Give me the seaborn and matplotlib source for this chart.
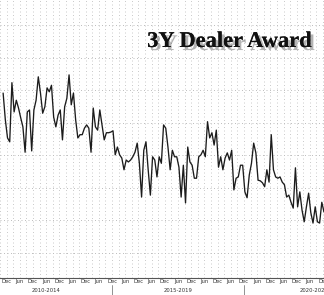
import numpy as np
import pandas as pd
import matplotlib
matplotlib.use("Agg")
import matplotlib.pyplot as plt
import matplotlib.patheffects as pe
import matplotlib.transforms as mtransforms
import seaborn as sns

# ---- data ----
start_month = "2009-11"
award = [
    34.6, 30.5, 27.7, 27.1, 36.2, 31.7, 33.5, 32.3, 30.8, 29.4,
    25.5, 31.7, 32.0, 25.7, 32.0, 33.5, 37.1, 34.6, 31.5, 32.5,
    35.4, 34.8, 35.8, 30.9, 29.4, 31.2, 32.0, 27.4, 32.5, 33.8,
    37.4, 32.8, 34.6, 30.5, 27.7, 28.2, 28.2, 29.2, 29.7, 29.2,
    25.5, 32.3, 29.4, 28.9, 32.0, 29.7, 27.4, 28.5, 28.5, 28.6,
    28.8, 25.1, 26.3, 25.1, 24.6, 22.8, 24.3, 24.0, 24.3, 24.8,
    25.5, 26.9, 23.8, 18.6, 25.8, 27.1, 22.8, 18.9, 24.8, 24.3,
    21.7, 24.8, 23.8, 29.7, 29.2, 26.3, 22.8, 25.8, 24.8, 24.8,
    23.2, 18.6, 23.5, 17.7, 26.3, 24.0, 23.5, 21.5, 21.5, 24.8,
    25.1, 25.8, 24.8, 30.2, 27.7, 28.5, 26.6, 28.9, 23.2, 24.8,
    22.8, 24.6, 25.4, 24.3, 25.8, 19.7, 21.5, 21.7, 23.5, 23.5,
    19.4, 18.5, 22.0, 23.8, 26.9, 25.4, 21.2, 21.1, 20.8, 20.2,
    22.8, 20.9, 28.2, 22.8, 21.7, 21.5, 21.7, 20.9, 20.5, 18.6,
    18.9, 17.8, 16.9, 23.1, 17.1, 19.4, 16.6, 14.8, 17.1, 19.2,
    16.2, 14.6, 17.1, 14.8, 14.6, 17.8, 16.3,
]
month_tick_labels = ["Dec", "Jun"] * 12 + ["Dec"]
group_labels = ["2010-2014", "2015-2019", "2020-2024"]
y_grid_values = [10, 15, 20, 25, 30, 35, 40, 45]
title = "3Y Dealer Award"

df = pd.DataFrame({
    "date": pd.date_range(start_month, periods=len(award), freq="MS"),
    "award": award,
})
df["month"] = np.arange(len(df))

sns.set_style("white")
plt.rcParams["font.family"] = ["DejaVu Sans"]

W, H = 324, 295
fig = plt.figure(figsize=(W / 100, H / 100), dpi=100)
fig.patch.set_facecolor("white")
ax = fig.add_axes([0, 17 / H, 1, 278 / H])

sns.lineplot(data=df, x="month", y="award", ax=ax, color="#1c1c1c",
             linewidth=0.95, zorder=3)

ax.set_xlim(0, 146)
ax.set_ylim(6.15, 48.92)
ax.set_xlabel("")
ax.set_ylabel("")

# y grid (no labels visible)
ax.set_yticks(y_grid_values)
ax.set_yticklabels([])
ax.tick_params(axis="y", length=0)

# x ticks: Dec / Jun every 6 months
tick_pos = 1.58 + 6 * np.arange(len(month_tick_labels))
ax.set_xticks(tick_pos)
ax.set_xticklabels(month_tick_labels, fontsize=3.8, color="#333333")
ax.set_xticks(np.arange(tick_pos[0] - 3, 147, 3), minor=True)
ax.tick_params(axis="x", which="major", direction="in", length=2.0,
               width=0.5, pad=0.8, color="#555555")
ax.tick_params(axis="x", which="minor", direction="in", length=1.2,
               width=0.4, color="#777777")

dot = (0, (1, 2.6))
ax.grid(True, axis="y", which="major", color="#bdbdbd", linestyle=dot, linewidth=0.7)
ax.grid(True, axis="x", which="both", color="#cacaca", linestyle=dot, linewidth=0.7)
ax.set_axisbelow(True)

for s in ["left", "top", "right"]:
    ax.spines[s].set_visible(False)
ax.spines["bottom"].set_color("#555555")
ax.spines["bottom"].set_linewidth(0.8)

# group labels and separators below the month labels
blend = mtransforms.blended_transform_factory(ax.transData, ax.transAxes)
seps = [tick_pos[8], tick_pos[18]]
for s in seps:
    ax.plot([s, s], [-0.025, -0.07], transform=blend, color="#808080",
            linewidth=0.6, clip_on=False)
centers = [seps[0] - 30, seps[0] + 30, seps[1] + 32]
for c, lab in zip(centers, group_labels):
    ax.text(c, -0.044, lab, transform=blend, ha="center", va="center",
            fontsize=3.8, color="#333333", clip_on=False)

# title with drop shadow
fig.text(312 / W, 1 - 47 / H, title, ha="right", va="baseline",
         fontsize=16.2, fontweight="bold", family="Liberation Serif",
         color="#111111",
         path_effects=[pe.withSimplePatchShadow(offset=(2.2, -2.2),
                                                shadow_rgbFace="0.35",
                                                alpha=0.45),
                       pe.Normal()])

fig.savefig("out.png", dpi=100)
